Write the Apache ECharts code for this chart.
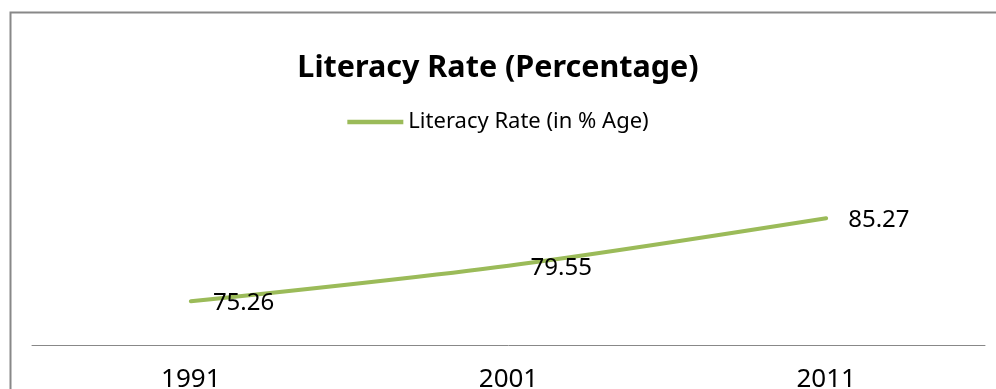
<!DOCTYPE html>
<html><head><meta charset="utf-8">
<script src="https://cdn.jsdelivr.net/npm/echarts@6/dist/echarts.min.js"></script>
<style>html,body{margin:0;padding:0;background:#fff}#c{width:996px;height:389px}</style>
</head><body><div id="c"></div>
<script>
const categories = ['1991', '2001', '2011'];
const literacyRate = [75.26, 79.55, 85.27];
const seriesName = 'Literacy Rate (in % Age)';
const titleText = 'Literacy Rate (Percentage)';

const chart = echarts.init(document.getElementById('c'));
chart.setOption({
  animation: false,
  backgroundColor: '#fff',
  textStyle: { fontFamily: 'Noto Sans' },
  title: {
    text: titleText, left: 'center', top: 53, padding: 0,
    textStyle: { fontSize: 30.5, fontWeight: 'bold', color: '#000', fontFamily: 'Noto Sans' }
  },
  legend: {
    top: 111, left: 'center', padding: 0,
    itemWidth: 56, itemHeight: 14,
    textStyle: { fontSize: 22, color: '#000', fontFamily: 'Noto Sans' },
    data: [{ name: seriesName, icon: 'path://M0,0L10,0L10,0.8L0,0.8Z' }]
  },
  grid: { left: 32, right: 11, top: 179, bottom: 44, outerBoundsMode: 'none', containLabel: false },
  xAxis: {
    type: 'category', data: categories, boundaryGap: true,
    axisLine: { lineStyle: { color: '#888', width: 1 } },
    axisTick: { show: false },
    axisLabel: { fontSize: 26, color: '#000', margin: 22, fontFamily: 'Noto Sans' }
  },
  yAxis: {
    type: 'value', min: 70, max: 90, show: false,
    splitLine: { show: false }
  },
  series: [{
    name: seriesName, type: 'line', data: literacyRate,
    smooth: 0.3, symbol: 'circle', symbolSize: 0.1, showSymbol: true,
    lineStyle: { color: '#9bbb59', width: 4, cap: 'round' },
    itemStyle: { color: '#9bbb59' },
    label: {
      show: true, position: 'right', distance: 22, offset: [0, 2],
      fontSize: 24, color: '#000', fontFamily: 'Noto Sans'
    }
  }],
  graphic: [{
    type: 'rect', left: 8, top: 10, silent: true,
    shape: { width: 1010, height: 420 },
    style: { fill: 'none', stroke: '#888', lineWidth: 2 }
  }]
});
</script></body></html>
